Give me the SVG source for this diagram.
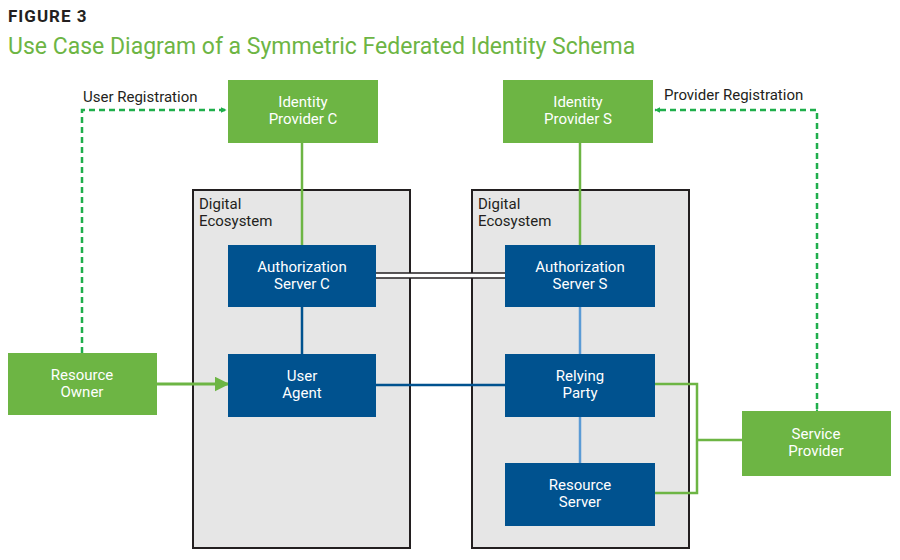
<svg xmlns="http://www.w3.org/2000/svg" width="900" height="560" viewBox="0 0 900 560">
<style>
text{font-family:Roboto,"Liberation Sans",sans-serif}
.g{fill:#6db544}.b{fill:#00528f}
.lbl{fill:#fff;font-size:15px;text-anchor:middle}
.eco{fill:#e6e6e6;stroke:#231f20;stroke-width:2}
.et{fill:#231f20;font-size:15px}
.dash{fill:none;stroke:#1fae4b;stroke-width:2.5;stroke-dasharray:6,4}
</style>
<defs>
<marker id="ah" viewBox="0 0 10 10" refX="9" refY="5" markerWidth="6" markerHeight="6" markerUnits="userSpaceOnUse" orient="auto"><path d="M0,0L10,5L0,10z" fill="#1fae4b"/></marker>
<marker id="ah2" viewBox="0 0 10 10" refX="9" refY="5" markerWidth="5" markerHeight="5" orient="auto"><path d="M0,0L10,5L0,10z" fill="#6db544"/></marker>
</defs>
<text x="8" y="22" font-size="17" font-weight="bold" fill="#231f20" letter-spacing="1">FIGURE 3</text>
<text x="8" y="54" font-size="23" fill="#6db544">Use Case Diagram of a Symmetric Federated Identity Schema</text>
<g id="eco-c"><rect class="eco" x="193" y="190" width="217" height="358"/><text class="et" x="199" y="209">Digital</text><text class="et" x="199" y="226">Ecosystem</text></g>
<g id="eco-s"><rect class="eco" x="472" y="190" width="217" height="358"/><text class="et" x="478" y="209">Digital</text><text class="et" x="478" y="226">Ecosystem</text></g>
<g id="connectors">
<line x1="302" y1="143" x2="302" y2="245" stroke="#6db544" stroke-width="2.5"/>
<line x1="580" y1="143" x2="580" y2="245" stroke="#6db544" stroke-width="2.5"/>
<line x1="302" y1="307" x2="302" y2="354" stroke="#00528f" stroke-width="2.5"/>
<line x1="580" y1="307" x2="580" y2="354" stroke="#5b9bd5" stroke-width="2.5"/>
<line x1="580" y1="417" x2="580" y2="463" stroke="#5b9bd5" stroke-width="2.5"/>
<line x1="376" y1="385" x2="505" y2="385" stroke="#00528f" stroke-width="2.5"/>
<rect x="376" y="273" width="129" height="5" fill="#fff"/>
<line x1="376" y1="273" x2="505" y2="273" stroke="#231f20" stroke-width="1.5"/>
<line x1="376" y1="278" x2="505" y2="278" stroke="#231f20" stroke-width="1.5"/>
<line x1="157" y1="384" x2="228" y2="384" stroke="#6db544" stroke-width="3" marker-end="url(#ah2)"/>
<polyline class="dash" points="82,353 82,110 226,110" marker-end="url(#ah)"/>
<polyline class="dash" points="817,409 817,110 655,110" marker-start="url(#ah)" marker-end="url(#ah)"/>
<polyline points="655,384 697,384 697,493 655,493" fill="none" stroke="#6db544" stroke-width="2.5"/>
<line x1="697" y1="440" x2="742" y2="440" stroke="#6db544" stroke-width="2.5"/>
<text x="83" y="102" font-size="15" fill="#231f20">User Registration</text>
<text x="664" y="100" font-size="15" fill="#231f20">Provider Registration</text>
</g>
<g id="idp-c"><rect class="g" x="228" y="80" width="150" height="63"/><text class="lbl" x="303" y="107">Identity</text><text class="lbl" x="303" y="124">Provider C</text></g>
<g id="idp-s"><rect class="g" x="503" y="80" width="150" height="63"/><text class="lbl" x="578" y="107">Identity</text><text class="lbl" x="578" y="124">Provider S</text></g>
<g id="auth-c"><rect class="b" x="228" y="245" width="148" height="62"/><text class="lbl" x="302" y="272">Authorization</text><text class="lbl" x="302" y="289">Server C</text></g>
<g id="auth-s"><rect class="b" x="505" y="245" width="150" height="62"/><text class="lbl" x="580" y="272">Authorization</text><text class="lbl" x="580" y="289">Server S</text></g>
<g id="user-agent"><rect class="b" x="228" y="354" width="148" height="63"/><text class="lbl" x="302" y="381">User</text><text class="lbl" x="302" y="398">Agent</text></g>
<g id="relying-party"><rect class="b" x="505" y="354" width="150" height="63"/><text class="lbl" x="580" y="381">Relying</text><text class="lbl" x="580" y="398">Party</text></g>
<g id="resource-server"><rect class="b" x="505" y="463" width="150" height="63"/><text class="lbl" x="580" y="490">Resource</text><text class="lbl" x="580" y="507">Server</text></g>
<g id="resource-owner"><rect class="g" x="8" y="353" width="149" height="62"/><text class="lbl" x="82" y="380">Resource</text><text class="lbl" x="82" y="397">Owner</text></g>
<g id="service-provider"><rect class="g" x="742" y="411" width="149" height="65"/><text class="lbl" x="816" y="439">Service</text><text class="lbl" x="816" y="456">Provider</text></g>
</svg>
